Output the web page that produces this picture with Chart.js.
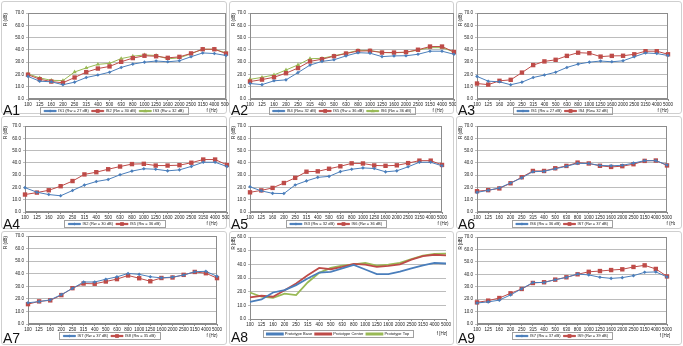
<!DOCTYPE html>
<html>
<head>
<meta charset="utf-8">
<script src="https://cdn.jsdelivr.net/npm/chart.js@4.4.1/dist/chart.umd.min.js"></script>
<style>
  body { margin: 0; background: #fff; width: 683px; height: 346px; overflow: hidden; position: relative;
         font-family: "Liberation Sans", Arial, sans-serif; }
  .panel { position: absolute; border: 1px solid #cfcfcf; border-radius: 3px; box-sizing: border-box; background: #fff; }
  .tag { position: absolute; font-size: 14px; line-height: 1; color: #111; }
  canvas { position: absolute; }
</style>
</head>
<body>
<script>
// frequency bands (Hz)
const freqs = ['100', '125', '160', '200', '250', '315', '400', '500', '630', '800',
  '1000', '1250', '1600', '2000', '2500', '3150', '4000', '5000'];

// sound reduction R (dB) per sample
const is1 = [18.4, 14.5, 14.0, 11.6, 13.7, 17.5, 19.5, 21.8, 25.7, 28.4, 30.0, 30.9, 30.3, 31.1, 34.4, 37.5, 37.0, 35.4];
const is2 = [19.8, 16.1, 14.2, 13.2, 17.5, 21.9, 24.8, 26.5, 30.3, 33.3, 35.2, 34.8, 33.5, 34.3, 37.1, 40.5, 40.5, 37.0];
const is3 = [20.5, 17.2, 15.2, 15.0, 22.0, 25.3, 28.2, 29.0, 32.9, 34.8, 35.9, 35.4, 32.7, 33.5, 36.8, 40.5, 40.5, 37.6];
const is4 = [12.6, 11.7, 14.8, 15.6, 21.5, 27.6, 30.6, 31.9, 35.1, 37.7, 37.3, 34.5, 35.1, 35.2, 36.4, 38.9, 38.9, 36.4];
const is5 = [14.2, 15.8, 17.7, 21.0, 25.2, 30.6, 32.4, 34.8, 37.0, 39.0, 39.2, 37.8, 37.8, 38.1, 40.1, 42.7, 42.7, 38.3];
const is6 = [16.0, 17.6, 19.6, 23.6, 27.8, 32.8, 33.1, 35.2, 37.2, 39.6, 39.5, 37.9, 37.6, 38.0, 39.8, 41.8, 41.8, 38.3];
const is7 = [16.9, 17.8, 19.2, 23.4, 28.3, 33.4, 33.4, 35.6, 37.5, 40.2, 39.5, 37.6, 36.7, 37.3, 38.9, 41.6, 41.9, 37.9];
const is8 = [15.8, 18.0, 18.8, 23.0, 28.5, 32.2, 32.0, 33.8, 35.7, 38.6, 36.4, 34.0, 36.6, 37.0, 39.1, 41.4, 40.4, 36.5];
const is9 = [17.4, 18.8, 20.9, 24.7, 28.2, 33.0, 33.6, 35.7, 37.6, 40.0, 42.0, 42.6, 43.4, 44.0, 45.9, 47.2, 44.3, 38.3];

// prototype measurements (A8)
const protoBase = [12.6, 14.3, 19.4, 21.1, 24.8, 29.6, 34.0, 34.5, 37.0, 39.6, 36.2, 32.8, 32.8, 34.7, 37.0, 39.3, 41.0, 40.6];
const protoCenter = [15.8, 17.0, 16.3, 21.1, 26.0, 32.0, 37.4, 36.4, 38.1, 40.3, 39.8, 38.1, 38.8, 40.0, 43.4, 46.0, 47.0, 46.6];
const protoTop = [19.4, 16.3, 15.5, 18.5, 17.5, 26.7, 33.8, 37.4, 39.0, 40.0, 41.0, 39.0, 39.8, 41.0, 43.9, 46.4, 47.6, 47.8];

const lbl = {
  is1: 'IS1 (Rw = 27 dB)', is2: 'IS2 (Rw = 30 dB)', is3: 'IS3 (Rw = 32 dB)',
  is4: 'IS4 (Rw= 32 dB)', is5: 'IS5 (Rw = 36 dB)', is6: 'IS6 (Rw = 36 dB)',
  is7: 'IS7 (Rw = 37 dB)', is8: 'IS8 (Rw = 35 dB)', is9: 'IS9 (Rw = 39 dB)'
};

const panels = [
  { tag: 'A1', yMax: 70, series: [[lbl.is1, is1, 'blue'], [lbl.is2, is2, 'red'], [lbl.is3, is3, 'green']] },
  { tag: 'A2', yMax: 70, series: [[lbl.is4, is4, 'blue'], [lbl.is5, is5, 'red'], [lbl.is6, is6, 'green']] },
  { tag: 'A3', yMax: 70, series: [[lbl.is1, is1, 'blue'], [lbl.is4, is4, 'red']] },
  { tag: 'A4', yMax: 70, series: [[lbl.is2, is2, 'blue'], [lbl.is5, is5, 'red']] },
  { tag: 'A5', yMax: 70, series: [[lbl.is3, is3, 'blue'], [lbl.is6, is6, 'red']] },
  { tag: 'A6', yMax: 70, series: [[lbl.is6, is6, 'blue'], [lbl.is7, is7, 'red']] },
  { tag: 'A7', yMax: 70, series: [[lbl.is7, is7, 'blue'], [lbl.is8, is8, 'red']] },
  { tag: 'A8', yMax: 60, proto: true, series: [['Prototype Base', protoBase, 'pBlue'], ['Prototype Center', protoCenter, 'pRed'], ['Prototype Top', protoTop, 'pGreen']] },
  { tag: 'A9', yMax: 70, series: [[lbl.is7, is7, 'blue'], [lbl.is9, is9, 'red']] }
];

// cell position + plot area (relative to cell) + x of axis title
const boxes = [
  { x: 0,   y: 0,   w: 228, h: 115, l: 28, r: 226, t: 13, b: 99, fx: 212, ty: 102.5 },
  { x: 228, y: 0,   w: 227, h: 115, l: 22, r: 226, t: 13, b: 99, fx: 210, ty: 102.5 },
  { x: 455, y: 0,   w: 228, h: 115, l: 22, r: 213, t: 13, b: 99, fx: 208, ty: 102.5 },
  { x: 0,   y: 115, w: 228, h: 115, l: 25, r: 227, t: 11, b: 97, fx: 212, ty: 101.5 },
  { x: 228, y: 115, w: 227, h: 115, l: 22, r: 214, t: 11, b: 97, fx: 215, ty: 101.5 },
  { x: 455, y: 115, w: 228, h: 115, l: 22, r: 212, t: 11, b: 97, fx: 217, ty: 101.5 },
  { x: 0,   y: 230, w: 228, h: 116, l: 28, r: 217, t: 6,  b: 94, fx: 212, ty: 100.5 },
  { x: 228, y: 230, w: 227, h: 116, l: 22, r: 218, t: 7,  b: 89, fx: 214, ty: 100 },
  { x: 455, y: 230, w: 228, h: 116, l: 22, r: 212, t: 7,  b: 94, fx: 210, ty: 100.5 }
];

const styles = {
  blue:   { color: '#4a7ebb', point: 'rectRot',  radius: 1.8, width: 1 },
  red:    { color: '#be4b48', point: 'rect',     radius: 3.1, width: 1 },
  green:  { color: '#98b954', point: 'triangle', radius: 2.4, width: 1 },
  pBlue:  { color: '#4a7ebb', point: false, radius: 0, width: 1.8 },
  pRed:   { color: '#be4b48', point: false, radius: 0, width: 1.8 },
  pGreen: { color: '#98b954', point: false, radius: 0, width: 1.8 }
};

const FONT = '"Liberation Sans", Arial, sans-serif';

function drawMark(ctx, style, x, y, r, color) {
  ctx.fillStyle = color;
  ctx.beginPath();
  if (style === 'rect') {
    const s = r * Math.SQRT1_2;
    ctx.rect(x - s, y - s, 2 * s, 2 * s);
  } else if (style === 'rectRot') {
    ctx.moveTo(x, y - r); ctx.lineTo(x + r, y); ctx.lineTo(x, y + r); ctx.lineTo(x - r, y);
    ctx.closePath();
  } else if (style === 'triangle') {
    ctx.moveTo(x, y - r); ctx.lineTo(x + r * 0.95, y + r * 0.6); ctx.lineTo(x - r * 0.95, y + r * 0.6);
    ctx.closePath();
  }
  ctx.fill();
}

// plot frame, legend frame + markers, x axis title
const extras = {
  id: 'extras',
  beforeDatasetsDraw(chart, args, opts) {
    if (!opts.frame) return;
    const a = chart.chartArea;
    const ctx = chart.ctx;
    ctx.save();
    ctx.strokeStyle = '#8c8c8c';
    ctx.lineWidth = 1;
    ctx.strokeRect(Math.round(a.left) + 0.5, Math.round(a.top) + 0.5,
      Math.round(a.right - a.left) - 1, Math.round(a.bottom - a.top) - 1);
    ctx.restore();
  },
  afterDraw(chart, args, opts) {
    const lg = chart.legend;
    const hb = lg.legendHitBoxes;
    if (!hb || !hb.length) return;
    const ctx = chart.ctx;
    const bw = lg.options.labels.boxWidth;
    const cy = hb[0].top + hb[0].height / 2;
    ctx.save();
    chart.data.datasets.forEach((ds, i) => {
      if (!ds.pointRadius) return;
      drawMark(ctx, ds.pointStyle, hb[i].left + bw / 2, cy, ds.pointRadius * 0.85, ds.borderColor);
    });
    const last = hb[hb.length - 1];
    const x0 = Math.round(hb[0].left - 4) + 0.5;
    const x1 = Math.round(last.left + last.width + 4) + 0.5;
    ctx.strokeStyle = '#a0a0a0';
    ctx.lineWidth = 1;
    ctx.strokeRect(x0, Math.round(cy - 4) + 0.5, x1 - x0, 7);
    ctx.fillStyle = '#222';
    ctx.font = '4.5px ' + FONT;
    ctx.textAlign = 'center';
    ctx.textBaseline = 'middle';
    ctx.fillText(opts.xTitle, opts.fx, cy);
    ctx.restore();
  }
};

panels.forEach((p, i) => {
  const b = boxes[i];
  const xH = p.proto ? 10 : 7;
  const legH = 8;

  const frame = document.createElement('div');
  frame.className = 'panel';
  Object.assign(frame.style, { left: (b.x + 1) + 'px', top: (b.y + 1) + 'px', width: (b.w - 2) + 'px', height: (b.h - 2) + 'px' });
  document.body.appendChild(frame);

  const cv = document.createElement('canvas');
  const W = b.r + 8;
  cv.width = W;
  cv.height = b.h;
  cv.style.left = b.x + 'px';
  cv.style.top = b.y + 'px';
  document.body.appendChild(cv);

  const tag = document.createElement('div');
  tag.className = 'tag';
  tag.textContent = p.tag;
  tag.style.left = (b.x + 3) + 'px';
  tag.style.top = (b.y + b.ty) + 'px';
  document.body.appendChild(tag);

  new Chart(cv, {
    type: 'line',
    data: {
      labels: freqs,
      datasets: p.series.map(([label, data, kind]) => {
        const s = styles[kind];
        return {
          label,
          data,
          borderColor: s.color,
          backgroundColor: s.color,
          borderWidth: s.width,
          pointStyle: s.point,
          pointRadius: s.radius,
          pointBackgroundColor: s.color,
          pointBorderColor: s.color,
          pointBorderWidth: 0,
          tension: 0
        };
      })
    },
    options: {
      responsive: false,
      animation: false,
      devicePixelRatio: 1,
      events: [],
      layout: { padding: { left: 2, right: W - b.r, top: b.t, bottom: Math.max(0, b.h - b.b - xH - legH) } },
      plugins: {
        legend: {
          position: 'bottom',
          maxHeight: legH,
          labels: { font: { size: 4, family: FONT }, color: '#222', boxWidth: p.proto ? 16 : 12, boxHeight: 1.2, padding: 3 }
        },
        tooltip: { enabled: false },
        extras: { frame: !p.proto, xTitle: (p.proto || p.tag === 'A9') ? 'f [Hz]' : 'f (Hz)', fx: b.fx }
      },
      scales: {
        x: {
          grid: { display: true, drawOnChartArea: false, tickLength: 2, color: '#8c8c8c' },
          border: { color: '#8c8c8c' },
          ticks: { font: { size: 4.5, family: FONT }, color: '#222', maxRotation: 0, minRotation: 0, autoSkip: false, padding: 1 },
          afterFit: s => { s.height = xH; }
        },
        y: {
          min: 0,
          max: p.yMax,
          ticks: { stepSize: 10, font: { size: 4.5, family: FONT }, color: '#222', padding: 2, callback: v => v.toFixed(1) },
          grid: { color: '#bcbcbc', tickLength: 2 },
          border: { color: '#8c8c8c' },
          title: { display: true, text: (p.proto || p.tag === 'A9') ? 'R [dB]' : 'R (dB)', align: 'end', font: { size: 4.5, family: FONT }, color: '#222', padding: { top: 1, bottom: 0 } },
          afterFit: s => { s.width = b.l - 2; }
        }
      }
    },
    plugins: [extras]
  });
});
</script>
</body>
</html>
